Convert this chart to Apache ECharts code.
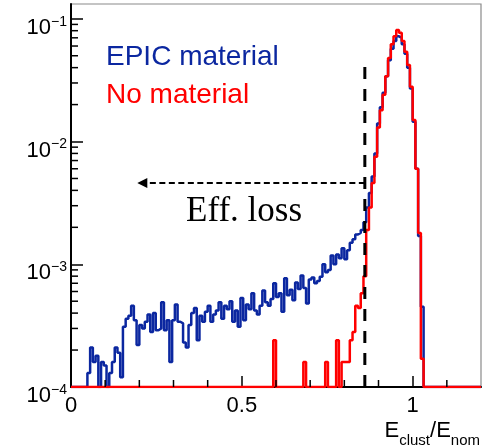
<!DOCTYPE html>
<html>
<head>
<meta charset="utf-8">
<script src="https://cdn.jsdelivr.net/npm/echarts@6/dist/echarts.min.js"></script>
<style>
  html, body { margin: 0; padding: 0; background: #fff; }
  #chart { width: 487px; height: 447px; }
</style>
</head>
<body>
<div id="chart"></div>
<script>
// Histogram binning: 150 bins over [0, 1.2]
const BIN_WIDTH = 0.008;
const N_BINS = 150;
const X_MIN = 0, X_MAX = 1.2;
const Y_MIN = 1e-4, Y_MAX = 0.132;

// EPIC material (bins 6 .. 128), normalised counts
const blueFirstBin = 6;
const blueValues = [
  1.3e-4, 2.1e-4, 1.6e-4, 1.8e-4, 0, 1.6e-4, 1.5e-4, 0, 1.3e-4, 1.6e-4,
  2.1e-4, 1.9e-4, 1.2e-4, 3.1e-4, 3.6e-4, 3.8e-4, 4.6e-4, 3.5e-4, 2.2e-4, 3.2e-4,
  3.0e-4, 3.4e-4, 3.9e-4, 2.8e-4, 4.0e-4, 2.9e-4, 3.0e-4, 4.9e-4, 2.9e-4, 3.5e-4,
  1.6e-4, 3.5e-4, 4.7e-4, 3.4e-4, 3.3e-4, 2.3e-4, 2.1e-4, 3.2e-4, 4.0e-4, 4.4e-4,
  2.4e-4, 3.8e-4, 3.4e-4, 4.1e-4, 4.6e-4, 3.4e-4, 3.9e-4, 4.2e-4, 4.9e-4, 3.6e-4,
  4.6e-4, 4.3e-4, 5.0e-4, 3.4e-4, 4.2e-4, 3.1e-4, 5.3e-4, 3.5e-4, 4.7e-4, 4.3e-4,
  5.8e-4, 4.2e-4, 3.9e-4, 4.6e-4, 6.1e-4, 4.9e-4, 4.6e-4, 5.2e-4, 7.0e-4, 5.4e-4,
  5.8e-4, 4.1e-4, 7.7e-4, 5.6e-4, 6.2e-4, 5.1e-4, 7.1e-4, 6.3e-4, 8.1e-4, 6.4e-4,
  4.8e-4, 7.5e-4, 7.8e-4, 7.0e-4, 7.3e-4, 7.9e-4, 1.0e-3, 8.6e-4, 9.0e-4, 1.18e-3,
  1.0e-3, 1.2e-3, 1.12e-3, 1.35e-3, 1.1e-3, 1.3e-3, 1.5e-3, 1.6e-3, 1.75e-3, 1.8e-3,
  1.9e-3, 2.2e-3, 2.9e-3, 3.8e-3, 5.2e-3, 8.0e-3, 1.4e-2, 1.9e-2, 2.5e-2, 3.4e-2,
  4.6e-2, 5.7e-2, 6.6e-2, 7.2e-2, 7.0e-2, 6.2e-2, 5.2e-2, 4.0e-2, 2.7e-2, 1.45e-2,
  6.0e-3, 1.7e-3, 4.5e-4
];

// No material (bins 74 .. 128)
const redFirstBin = 74;
const redValues = [
  2.4e-4, 0, 0, 0, 0, 0, 0, 0, 0, 0,
  0, 1.6e-4, 0, 0, 0, 0, 0, 0, 0, 1.6e-4,
  0, 0, 0, 2.4e-4, 0, 1.6e-4, 1.6e-4, 1.6e-4, 2.4e-4, 2.8e-4,
  4.6e-4, 4.4e-4, 5.8e-4, 8.0e-4, 1.9e-3, 2.9e-3, 4.6e-3, 7.5e-3, 1.3e-2, 1.8e-2,
  2.4e-2, 3.4e-2, 4.8e-2, 6.2e-2, 7.2e-2, 8.1e-2, 7.7e-2, 6.6e-2, 5.4e-2, 4.2e-2,
  2.8e-2, 1.5e-2, 6.0e-3, 1.8e-3, 1.7e-4
];

// Tick positions
const xMinorTicks = [0.1, 0.2, 0.3, 0.4, 0.6, 0.7, 0.8, 0.9, 1.1];
const yMinorTicks = [
  2e-4, 3e-4, 4e-4, 5e-4, 6e-4, 7e-4, 8e-4, 9e-4,
  2e-3, 3e-3, 4e-3, 5e-3, 6e-3, 7e-3, 8e-3, 9e-3,
  2e-2, 3e-2, 4e-2, 5e-2, 6e-2, 7e-2, 8e-2, 9e-2
];

// Cut marker and efficiency-loss arrow
const cutX = 0.86;
const cutTop = 0.046;
const arrowY = 0.0046;
const arrowTipX = 0.194;

const BLUE = '#0b27a0';
const RED = '#ff0000';
const SANS = '"Liberation Sans", Arial, sans-serif';
const SERIF = '"Liberation Serif", "Times New Roman", serif';

// Step outline of a histogram: one point at each bin's lower edge, plus the upper edge
function histPoints(firstBin, values) {
  const pts = [];
  for (let i = 0; i < N_BINS; i++) {
    const k = i - firstBin;
    const v = (k >= 0 && k < values.length) ? values[k] : 0;
    pts.push([X_MIN + i * BIN_WIDTH, v > 0 ? v : Y_MIN]);
  }
  pts.push([X_MAX, pts[pts.length - 1][1]]);
  return pts;
}

const chart = echarts.init(document.getElementById('chart'), null, { renderer: 'canvas' });

const option = {
  animation: false,
  backgroundColor: '#fff',
  grid: {
    left: 71, right: 6, top: 4, bottom: 60,
    show: true, borderColor: '#8a8a8a', borderWidth: 1.2, backgroundColor: 'transparent'
  },
  xAxis: {
    type: 'value', min: X_MIN, max: X_MAX, interval: 0.5,
    axisLine: { onZero: false, lineStyle: { color: '#000', width: 2 } },
    axisTick: { inside: true, length: 11, lineStyle: { color: '#000', width: 1.5 } },
    axisLabel: {
      margin: 8, color: '#000', fontSize: 22, fontFamily: SANS, showMaxLabel: false
    },
    splitLine: { show: false }
  },
  yAxis: {
    type: 'log', logBase: 10, min: Y_MIN, max: Y_MAX,
    axisLine: { lineStyle: { color: '#000', width: 2 } },
    axisTick: { inside: true, length: 12, lineStyle: { color: '#000', width: 1.5 } },
    axisLabel: {
      margin: 4, showMaxLabel: false, padding: [10, 0, 0, 0],
      formatter: v => '{b|10}{e|\u2212' + Math.abs(Math.round(Math.log10(v))) + '}',
      rich: {
        b: { fontSize: 22, fontFamily: SANS, color: '#000', lineHeight: 30, verticalAlign: 'bottom' },
        e: { fontSize: 14, fontFamily: SANS, color: '#000', lineHeight: 30, verticalAlign: 'top', padding: [6, 0, 0, 0] }
      }
    },
    splitLine: { show: false }
  },
  series: [
    {
      name: 'EPIC material', type: 'line', step: 'end', symbol: 'none',
      data: histPoints(blueFirstBin, blueValues),
      lineStyle: { color: BLUE, width: 2.5 }, z: 3
    },
    {
      name: 'No material', type: 'line', step: 'end', symbol: 'none',
      data: histPoints(redFirstBin, redValues),
      lineStyle: { color: RED, width: 2.5 }, z: 4
    },
    {
      // vertical cut line
      type: 'line', symbol: 'none', z: 5,
      data: [[cutX, Y_MIN], [cutX, cutTop]],
      lineStyle: { color: '#000', width: 3, type: [12, 10] }
    },
    {
      // dashed shaft of the efficiency-loss arrow
      type: 'line', symbol: 'none', z: 5,
      data: [[cutX, arrowY], [arrowTipX, arrowY]],
      lineStyle: { color: '#000', width: 2, type: [6, 3.5] }
    },
    {
      // arrow head, pointing left
      type: 'custom', z: 6, silent: true,
      data: [[arrowTipX, arrowY]],
      renderItem: (params, api) => {
        const p = api.coord([api.value(0), api.value(1)]);
        return { type: 'polygon',
                 shape: { points: [[p[0], p[1]], [p[0] + 10, p[1] - 5], [p[0] + 10, p[1] + 5]] },
                 style: { fill: '#000' } };
      }
    },
    {
      // minor ticks on the y axis
      type: 'custom', z: 6, silent: true,
      data: yMinorTicks.map(v => [X_MIN, v]),
      renderItem: (params, api) => {
        const p = api.coord([api.value(0), api.value(1)]);
        return { type: 'line', shape: { x1: p[0], y1: p[1], x2: p[0] + 7, y2: p[1] },
                 style: { stroke: '#000', lineWidth: 1.5 } };
      }
    },
    {
      // minor ticks on the x axis
      type: 'custom', z: 6, silent: true,
      data: xMinorTicks.map(v => [v, Y_MIN]),
      renderItem: (params, api) => {
        const p = api.coord([api.value(0), api.value(1)]);
        return { type: 'line', shape: { x1: p[0], y1: p[1], x2: p[0], y2: p[1] - 7 },
                 style: { stroke: '#000', lineWidth: 1.5 } };
      }
    }
  ],
  graphic: [
    { type: 'text', left: 106, top: 43, style: { text: 'EPIC material', fill: BLUE, font: '28px ' + SANS } },
    { type: 'text', left: 106, top: 81, style: { text: 'No material', fill: RED, font: '28px ' + SANS } },
    { type: 'text', left: 186, top: 194, style: { text: 'Eff. loss', fill: '#000', font: '35px ' + SERIF } },
    {
      type: 'text', right: 7, top: 420,
      style: {
        text: '{m|E}{s|clust}{m|/E}{s|nom}',
        rich: {
          m: { fontSize: 22, fontFamily: SANS, fill: '#000', lineHeight: 28, verticalAlign: 'top' },
          s: { fontSize: 15, fontFamily: SANS, fill: '#000', lineHeight: 28, verticalAlign: 'bottom' }
        }
      }
    }
  ]
};

chart.setOption(option);
</script>
</body>
</html>
